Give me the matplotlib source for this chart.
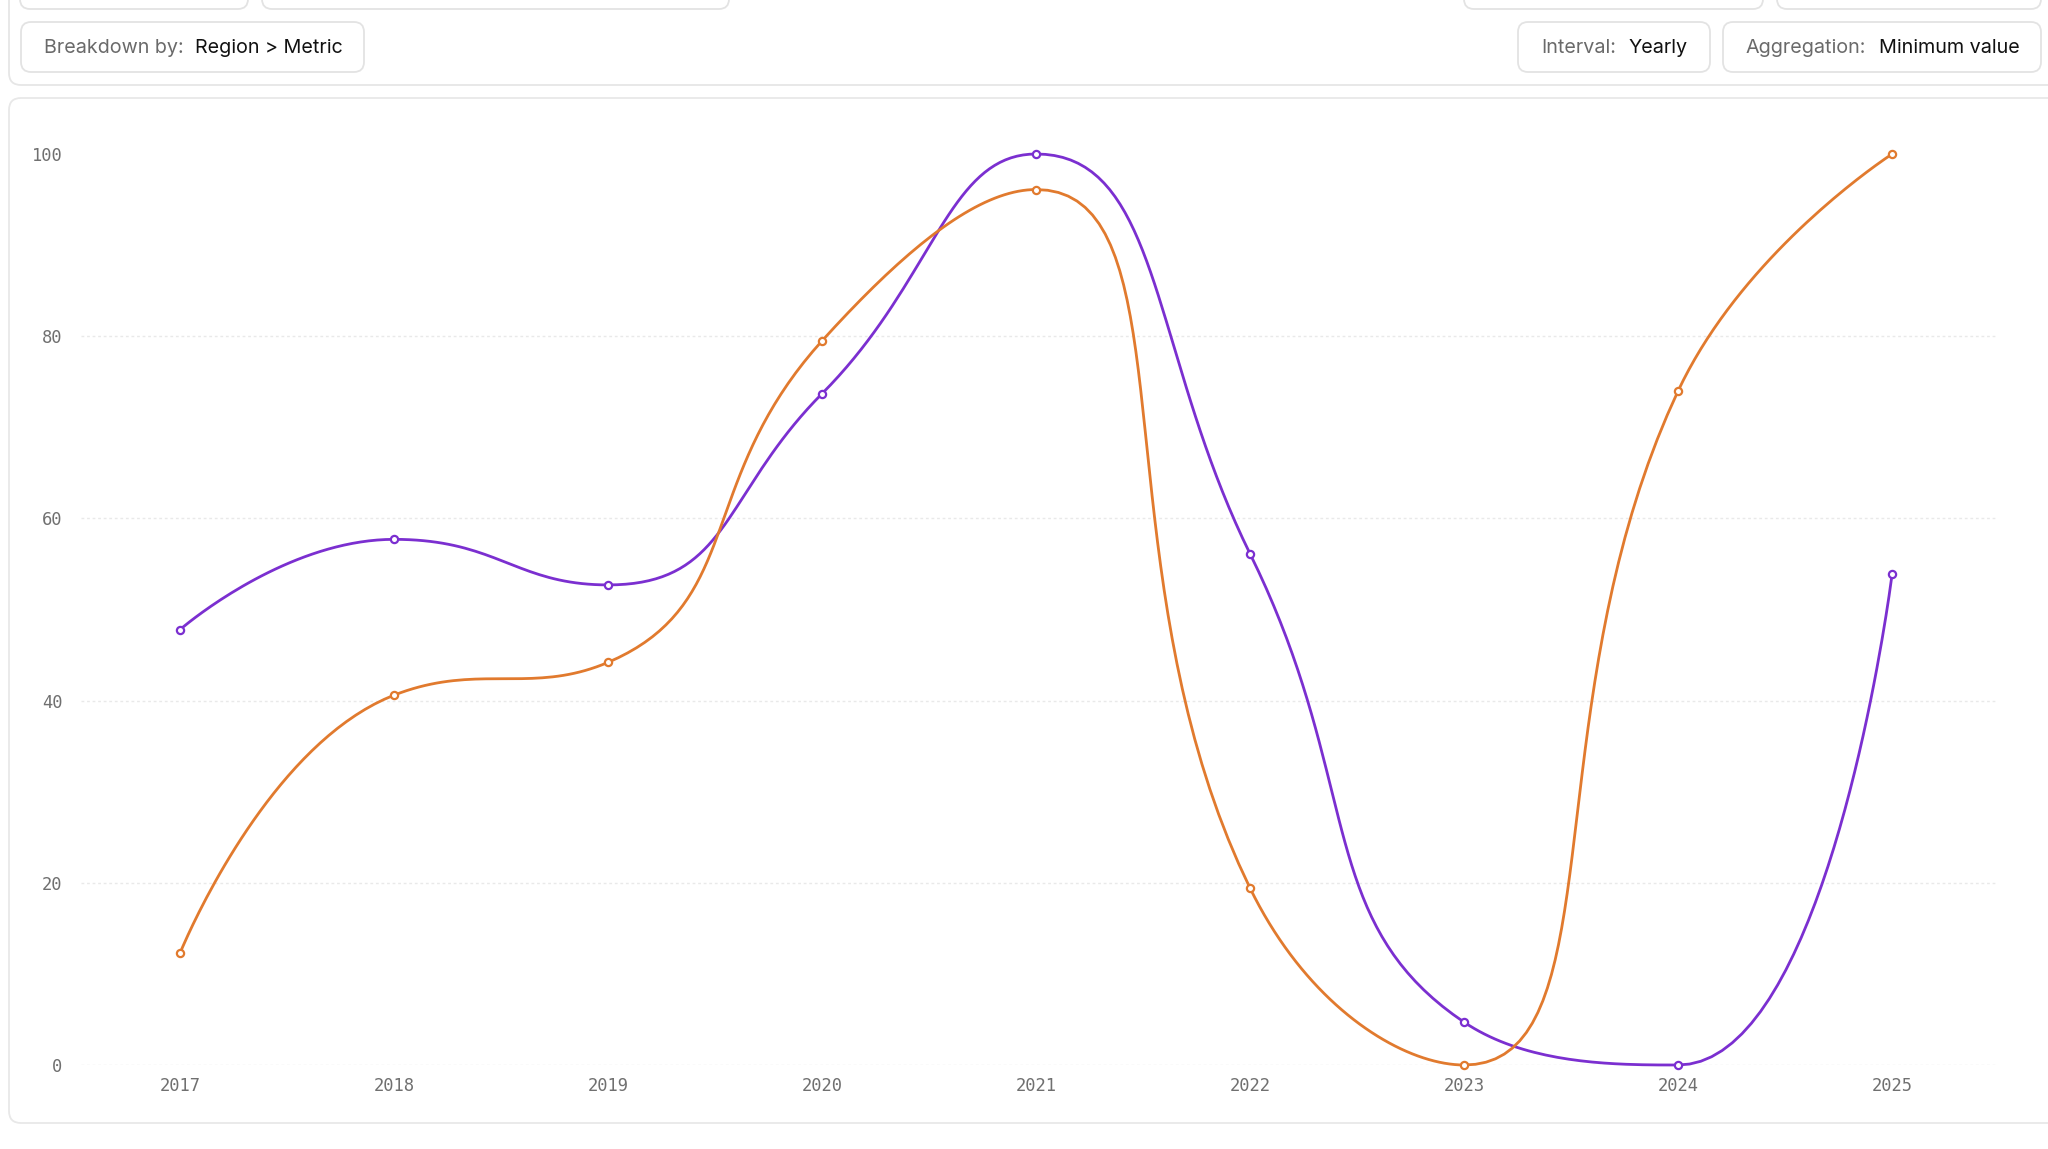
import numpy as np
import matplotlib
matplotlib.use("Agg")
from matplotlib import pyplot as plt
from matplotlib.patches import FancyBboxPatch

years = [2017, 2018, 2019, 2020, 2021, 2022, 2023, 2024, 2025]
purple_vals = [47.8, 57.7, 52.7, 73.7, 100.0, 56.1, 4.7, 0.0, 53.9]
orange_vals = [12.3, 40.6, 44.2, 79.5, 96.1, 19.4, 0.0, 74.0, 100.0]
y_ticks = [0, 20, 40, 60, 80, 100]

PURPLE = "#7b2fd0"
ORANGE = "#e17a2e"

W, H = 2048, 1149


def smooth_curve(pts, smooth=0.5, n=40):
    # echarts-style smoothing of a polyline, works on screen pixels
    pts = np.asarray(pts, float)
    out = [pts[0]]
    cp0 = pts[0].copy()
    m = len(pts)
    for k in range(1, m):
        prev, cur = pts[k - 1], pts[k]
        if k == m - 1:
            cp1 = cur.copy()
            nxt_cp0 = cur.copy()
        else:
            nxt = pts[k + 1]
            v = nxt - prev
            len_prev = np.hypot(*(cur - prev))
            len_next = np.hypot(*(nxt - cur))
            ratio = len_next / (len_next + len_prev)
            nxt_cp0 = cur + v * smooth * ratio
            nxt_cp0 = np.minimum(nxt_cp0, np.maximum(nxt, cur))
            nxt_cp0 = np.maximum(nxt_cp0, np.minimum(nxt, cur))
            v = nxt_cp0 - cur
            cp1 = cur - v * len_prev / len_next
            cp1 = np.minimum(cp1, np.maximum(prev, cur))
            cp1 = np.maximum(cp1, np.minimum(prev, cur))
            v = cur - cp1
            nxt_cp0 = cur + v * len_next / len_prev
        t = np.linspace(0, 1, n)[1:, None]
        seg = ((1 - t) ** 3 * prev + 3 * (1 - t) ** 2 * t * cp0
               + 3 * (1 - t) * t ** 2 * cp1 + t ** 3 * cur)
        out.extend(seg)
        cp0 = nxt_cp0
    return np.array(out)


def px_box(fig, x0, y0, x1, y1, r=12, ec="#e6e6e6", lw=1.3):
    # box given in pixel coords, top-left origin
    box = FancyBboxPatch((x0 / W, 1 - y1 / H), (x1 - x0) / W, (y1 - y0) / H,
                         boxstyle="round,pad=0,rounding_size=%f" % (r / W),
                         transform=fig.transFigure, fc="white", ec=ec, lw=lw,
                         mutation_aspect=W / H, clip_on=False, zorder=0)
    fig.patches.append(box)


fig = plt.figure(figsize=(W / 100, H / 100), dpi=100)
fig.patch.set_facecolor("white")

# filter panel on top
px_box(fig, 9, -30, 2080, 85)
for bx0, bx1 in [(20, 248), (262, 729), (1464, 1763), (1777, 2041)]:
    px_box(fig, bx0, -40, bx1, 9, r=10, ec="#e3e3e3")
for bx0, bx1 in [(21, 364), (1518, 1710), (1723, 2041)]:
    px_box(fig, bx0, 22, bx1, 72, r=10, ec="#e3e3e3")

btn_font = dict(family=["Inter", "DejaVu Sans"], fontsize=14.2, va="center")
ty = 1 - 48 / H
fig.text(44 / W, ty, "Breakdown by:", color="#6a6a6a", **btn_font)
fig.text(195 / W, ty, "Region > Metric", color="#111111", **btn_font)
fig.text(1541 / W, ty, "Interval:", color="#6a6a6a", **btn_font)
fig.text(1629 / W, ty, "Yearly", color="#111111", **btn_font)
fig.text(1746 / W, ty, "Aggregation:", color="#6a6a6a", **btn_font)
fig.text(1879 / W, ty, "Minimum value", color="#111111", **btn_font)

# chart card
px_box(fig, 9, 98, 2080, 1123, ec="#e8e8e8")

ax_l, ax_r, ax_t, ax_b = 81, 1997, 154, 1065
ax = fig.add_axes([ax_l / W, 1 - ax_b / H, (ax_r - ax_l) / W, (ax_b - ax_t) / H])
ax.set_zorder(5)
ax.set_facecolor("none")
ax.set_xlim(2016.537, 2025.49)
ax.set_ylim(0, 100)
for sp in ax.spines.values():
    sp.set_visible(False)

for yv in y_ticks[:-1]:
    ax.axhline(yv, color="#e9e9e9", lw=1, ls=(0, (2, 2)), zorder=1)

ax.set_yticks(y_ticks)
ax.set_xticks(years)
ax.tick_params(length=0, labelsize=12.3, labelcolor="#707070")
ax.tick_params(axis="y", pad=13.5)
ax.tick_params(axis="x", pad=8.5)
for lab in ax.get_xticklabels() + ax.get_yticklabels():
    lab.set_family("DejaVu Sans Mono")

to_px = ax.transData
to_data = ax.transData.inverted()
for vals, col in [(purple_vals, PURPLE), (orange_vals, ORANGE)]:
    pix = to_px.transform(np.column_stack([years, vals]))
    curve = to_data.transform(smooth_curve(pix))
    ax.plot(curve[:, 0], curve[:, 1], color=col, lw=2.0, zorder=3, clip_on=False,
            solid_capstyle="round")
    ax.plot(years, vals, ls="none", marker="o", ms=5.2, mfc="white", mec=col,
            mew=1.6, zorder=4, clip_on=False)

fig.savefig("out.png", dpi=100, facecolor="white")
